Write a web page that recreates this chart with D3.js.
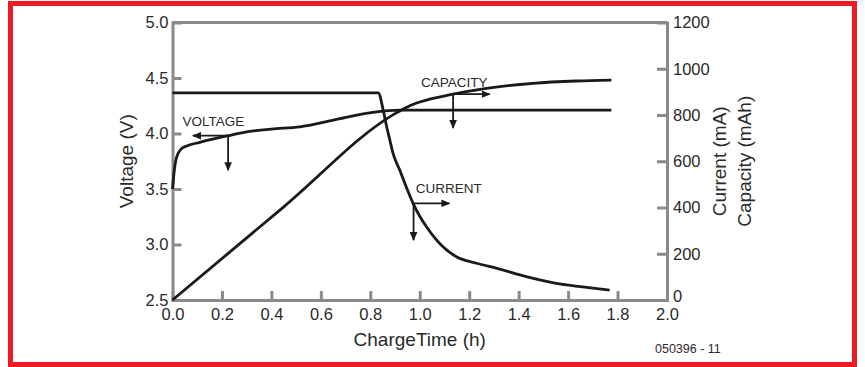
<!DOCTYPE html>
<html>
<head>
<meta charset="utf-8">
<script src="https://cdn.jsdelivr.net/npm/d3@7"></script>
<style>
  body { margin: 0; background: #fff; }
  svg { display: block; font-family: "Liberation Sans", Arial, sans-serif; }
  .axis text { fill: #2a2a2a; font-size: 16.5px; }
  .axis line, .axis path { stroke: #8a8a8a; stroke-width: 3; }
</style>
</head>
<body>
<div id="chart"></div>
<script>
// charge time (h) vs voltage (V)
const voltage = [
  [0, 3.5], [0.008, 3.68], [0.017, 3.79], [0.035, 3.86], [0.06, 3.89],
  [0.11, 3.92], [0.225, 3.98], [0.29, 4.01], [0.4, 4.04], [0.515, 4.06],
  [0.65, 4.12], [0.81, 4.19], [0.92, 4.21], [1.2, 4.21], [1.775, 4.21]
];
// charge time (h) vs current (mA)
const current = [
  [0, 896], [0.832, 896], [0.852, 822], [0.866, 750], [0.879, 692],
  [0.892, 634], [0.919, 562], [0.945, 490], [0.973, 418], [1.0, 362],
  [1.027, 317], [1.06, 270], [1.094, 230], [1.148, 187], [1.229, 159],
  [1.313, 137], [1.431, 101], [1.552, 72], [1.65, 58], [1.768, 43]
];
// charge time (h) vs capacity (mAh)
const capacity = [
  [0, 0], [0.45, 403], [0.9, 806], [0.95, 835], [1.0, 856], [1.135, 890],
  [1.27, 915], [1.458, 937], [1.633, 947], [1.775, 951]
];
const xTicks = [0, 0.2, 0.4, 0.6, 0.8, 1.0, 1.2, 1.4, 1.6, 1.8, 2.0];
const vTicks = [2.5, 3.0, 3.5, 4.0, 4.5, 5.0];
const mTicks = [0, 200, 400, 600, 800, 1000, 1200];

// callouts: label, anchor point on curve, arrow ends (data units)
const callouts = [
  {label: "VOLTAGE", axis: "v", at: [0.225, 3.98], hx: 0.083, vy: 3.67, text: [0.04, 4.07]},
  {label: "CAPACITY", axis: "m", at: [1.135, 890], hx: 1.283, vy: 744, text: [1.005, 921]},
  {label: "CURRENT", axis: "m", at: [0.975, 418], hx: 1.12, vy: 259, text: [0.984, 463]}
];

const W = 865, H = 367;
const margin = {top: 22.5, right: 198, bottom: 67, left: 172.5};

const svg = d3.select("#chart").append("svg")
  .attr("width", W)
  .attr("height", H);

const x = d3.scaleLinear().domain([0, 2]).range([margin.left, W - margin.right]);
const yV = d3.scaleLinear().domain([2.5, 5]).range([H - margin.bottom, margin.top]);
const yM = d3.scaleLinear().domain([0, 1200]).range([H - margin.bottom, margin.top]);

// red frame
svg.append("rect")
  .attr("x", 10.5).attr("y", 3.5)
  .attr("width", 844).attr("height", 361)
  .attr("fill", "none")
  .attr("stroke", "#ed1c24")
  .attr("stroke-width", 5);

// top border of plot box
svg.append("line")
  .attr("x1", x(0)).attr("x2", x(2))
  .attr("y1", yV(5)).attr("y2", yV(5))
  .attr("stroke", "#8a8a8a").attr("stroke-width", 3);

svg.append("g")
  .attr("class", "axis")
  .attr("transform", `translate(0,${yV(2.5)})`)
  .call(d3.axisBottom(x).tickValues(xTicks).tickFormat(d3.format(".1f"))
    .tickSize(-9).tickSizeOuter(0).tickPadding(8));

svg.append("g")
  .attr("class", "axis")
  .attr("transform", `translate(${x(0)},0)`)
  .call(d3.axisLeft(yV).tickValues(vTicks).tickFormat(d3.format(".1f"))
    .tickSize(-9).tickSizeOuter(0).tickPadding(4));

const rightAxis = svg.append("g")
  .attr("class", "axis")
  .attr("transform", `translate(${x(2)},0)`)
  .call(d3.axisRight(yM).tickValues(mTicks).tickFormat(d3.format("d"))
    .tickSize(-10).tickSizeOuter(0).tickPadding(6));

// the "0" sits a little higher so it clears the "2.0" below it
rightAxis.selectAll(".tick text").filter(d => d === 0).attr("dy", "0.1em");

svg.selectAll(".axis .domain").attr("stroke-linecap", "square");

// axis titles
const titleStyle = sel => sel.attr("fill", "#2a2a2a").style("font-size", "19px");

svg.append("text")
  .attr("x", x(1)).attr("y", 346)
  .attr("text-anchor", "middle")
  .call(titleStyle)
  .text("ChargeTime (h)");

svg.append("text")
  .attr("transform", `translate(133,${yV(3.75)}) rotate(-90)`)
  .attr("text-anchor", "middle")
  .call(titleStyle)
  .text("Voltage (V)");

svg.append("text")
  .attr("transform", `translate(726,${yM(600)}) rotate(-90)`)
  .attr("text-anchor", "middle")
  .call(titleStyle)
  .text("Current (mA)");

svg.append("text")
  .attr("transform", `translate(751,${yM(600)}) rotate(-90)`)
  .attr("text-anchor", "middle")
  .call(titleStyle)
  .text("Capacity (mAh)");

svg.append("text")
  .attr("x", 655).attr("y", 353)
  .attr("fill", "#2a2a2a")
  .style("font-size", "12.5px")
  .text("050396 - 11");

// curves
const lineV = d3.line().x(d => x(d[0])).y(d => yV(d[1])).curve(d3.curveMonotoneX);
const lineM = d3.line().x(d => x(d[0])).y(d => yM(d[1])).curve(d3.curveMonotoneX);

[[voltage, lineV], [current, lineM], [capacity, lineM]].forEach(([data, gen]) => {
  svg.append("path")
    .datum(data)
    .attr("fill", "none")
    .attr("stroke", "#1a1a1a")
    .attr("stroke-width", 2.8)
    .attr("stroke-linejoin", "round")
    .attr("d", gen);
});

// arrowhead
svg.append("defs").append("marker")
  .attr("id", "arrow")
  .attr("markerUnits", "userSpaceOnUse")
  .attr("viewBox", "0 -4 9 8")
  .attr("refX", 8).attr("refY", 0)
  .attr("markerWidth", 9).attr("markerHeight", 8)
  .attr("orient", "auto")
  .append("path")
  .attr("d", "M0,-3.8L9,0L0,3.8Z")
  .attr("fill", "#1a1a1a");

callouts.forEach(c => {
  const y = c.axis === "v" ? yV : yM;
  const px = x(c.at[0]), py = y(c.at[1]);
  svg.append("line")
    .attr("x1", px).attr("y1", py)
    .attr("x2", x(c.hx)).attr("y2", py)
    .attr("stroke", "#1a1a1a").attr("stroke-width", 1.8)
    .attr("marker-end", "url(#arrow)");
  svg.append("line")
    .attr("x1", px).attr("y1", py)
    .attr("x2", px).attr("y2", y(c.vy))
    .attr("stroke", "#1a1a1a").attr("stroke-width", 1.8)
    .attr("marker-end", "url(#arrow)");
  svg.append("text")
    .attr("x", x(c.text[0])).attr("y", y(c.text[1]))
    .attr("fill", "#2a2a2a")
    .style("font-size", "13.5px")
    .text(c.label);
});
</script>
</body>
</html>
